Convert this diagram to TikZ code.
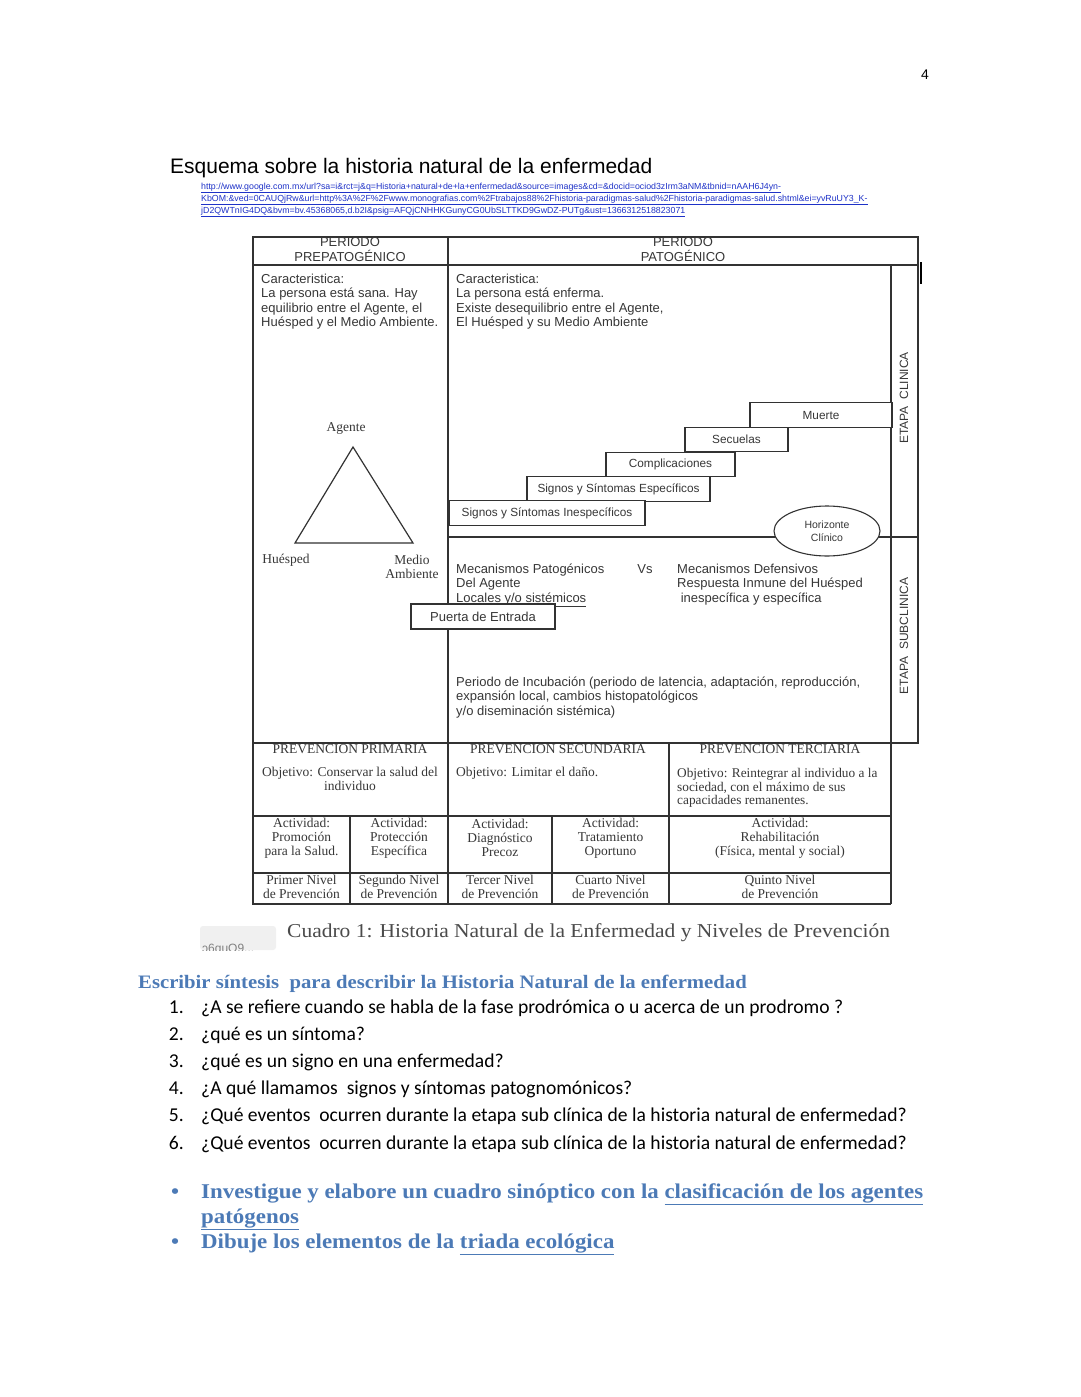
\documentclass[tikz,border=0pt]{standalone}
\usepackage{fontspec}
\setmainfont{Liberation Serif}
\newfontfamily\arialf{Liberation Sans}
\newfontfamily\calibrif{Carlito}
\newfontfamily\anchaf[FakeStretch=1.09]{Liberation Serif}
\usepackage{tikz}
\usetikzlibrary{shapes.geometric}
\definecolor{enlace}{RGB}{30,50,200}
\definecolor{acento}{RGB}{76,122,182}
\definecolor{linea}{RGB}{50,50,50}
\definecolor{tinta}{RGB}{55,55,55}
\definecolor{leyenda}{RGB}{75,75,75}
\newcommand{\letra}[2]{\fontsize{#1}{#2}\selectfont}

\begin{document}
\begin{tikzpicture}[x=1pt,y=-1pt,
  marco/.style={draw=linea,line width=1.3pt},
  caja/.style={draw=linea,line width=1.1pt,fill=white,inner sep=0pt},
  sans/.style={inner sep=0pt,text=tinta,align=left,font=\arialf\letra{13}{14.2}},
  serif/.style={inner sep=0pt,text=tinta,align=center,font=\letra{13.5}{14}},
  paso/.style={caja,minimum height=24.5pt,font=\arialf\letra{11.8}{13},text=tinta},
  url/.style={anchor=base west,inner sep=0pt,text=enlace,font=\arialf\letra{8.8}{10}},
  pregunta/.style={anchor=base west,inner sep=0pt,font=\calibrif\letra{19.6}{22}},
  tarea/.style={anchor=base west,inner sep=0pt,text=acento,font=\anchaf\bfseries\letra{21}{24}}]
\useasboundingbox[fill=white] (0,0) rectangle (1080,1397);

% encabezado de la pagina
\node[anchor=base,inner sep=0pt,font=\arialf\letra{14}{16}] (pagina) at (925,80){4};
\node[anchor=base west,inner sep=0pt,font=\arialf\letra{21}{24}] (titulo) at (170,173.5){Esquema sobre la historia natural de la enfermedad};
\node[url] (url1) at (201,189){\underline{http://www.google.com.mx/url?sa=i\&rct=j\&q=Historia+natural+de+la+enfermedad\&source=images\&cd=\&docid=ociod3zIrm3aNM\&tbnid=nAAH6J4yn-}};
\node[url] (url2) at (201,201){\underline{KbOM:\&ved=0CAUQjRw\&url=http\%3A\%2F\%2Fwww.monografias.com\%2Ftrabajos88\%2Fhistoria-paradigmas-salud\%2Fhistoria-paradigmas-salud.shtml\&ei=yvRuUY3\_K-}};
\node[url] (url3) at (201,213){\underline{jD2QWTnIG4DQ\&bvm=bv.45368065,d.b2I\&psig=AFQjCNHHKGunyCG0UbSLTTKD9GwDZ-PUTg\&ust=1366312518823071}};

% marco del cuadro
\draw[marco] (253,237) rectangle (918,743);
\draw[marco] (253,265) -- (918,265);
\draw[marco] (448,237) -- (448,904);
\draw[marco] (891,265) -- (891,904);
\draw[marco] (448,537) -- (918,537);
\draw[marco] (253,743) -- (253,904) -- (891,904);
\draw[marco] (253,816) -- (891,816);
\draw[marco] (253,873) -- (891,873);
\draw[marco] (350,816) -- (350,904);
\draw[marco] (552,816) -- (552,904);
\draw[marco] (669,743) -- (669,904);
\draw[line width=2.6pt] (921,262) -- (921,284);

% periodos
\begin{scope}
\clip (253,237) rectangle (918,265);
\node[sans] (perpre) at (350,242){PERIODO};
\node[sans] (perpat) at (683,242){PERIODO};
\end{scope}
\node[sans] (prepat) at (350,256){PREPATOGÉNICO};
\node[sans] (patog) at (683,256){PATOGÉNICO};
\node[sans,anchor=north west] (carsana) at (261,274){Caracteristica:\\La persona está sana. Hay\\equilibrio entre el Agente, el\\Huésped y el Medio Ambiente.};
\node[sans,anchor=north west] (carenf) at (456,274){Caracteristica:\\La persona está enferma.\\Existe desequilibrio entre el Agente,\\El Huésped y su Medio Ambiente};

% triada
\coordinate (vagente) at (353,447);
\coordinate (vhuesped) at (295,543);
\coordinate (vmedio) at (413,543);
\draw[draw=linea,line width=1.2pt] (vagente) -- (vhuesped) -- (vmedio) -- cycle;
\node[serif] (agente) at (346,428){Agente};
\node[serif] (huesped) at (286,560){Huésped};
\node[serif] (medio) at (412,567){Medio\\Ambiente};

% escalera de la etapa clinica
\node[paso,minimum width=142pt] (muerte) at (821,415){Muerte};
\node[paso,minimum width=103pt] (secuelas) at (736.5,439.5){Secuelas};
\node[paso,minimum width=129pt] (complic) at (670.5,464.5){Complicaciones};
\node[paso,minimum width=183pt] (especif) at (618.5,489){Signos y Síntomas Específicos};
\node[paso,minimum width=196pt] (inespec) at (547,513){Signos y Síntomas Inespecíficos};
\node[ellipse,draw=linea,line width=1.1pt,fill=white,minimum width=106pt,minimum height=50pt,inner sep=0pt,align=center,text=tinta,font=\arialf\letra{10.5}{12.5}] (horiz) at (827,531){Horizonte\\Clínico};
\node[sans,rotate=90,font=\arialf\letra{12}{13}] (clinica) at (904,398){ETAPA\ \ CLINICA};
\node[sans,rotate=90,font=\arialf\letra{12}{13}] (subclin) at (904,636){ETAPA\ \ SUBCLINICA};

% etapa subclinica
\node[sans,anchor=north west] (mecpat) at (456,564){Mecanismos Patogénicos\\Del Agente\\\underline{Locales y/o sistémicos}};
\node[sans] (vs) at (645,569){Vs};
\node[sans,anchor=north west] (mecdef) at (677,564){Mecanismos Defensivos\\Respuesta Inmune del Huésped\\\ inespecífica y específica};
\node[caja,minimum width=144pt,minimum height=25pt,font=\arialf\letra{13}{14},text=tinta] (puerta) at (483,616.5){Puerta de Entrada};
\node[sans,anchor=north west] (incub) at (456,677){Periodo de Incubación (periodo de latencia, adaptación, reproducción,\\expansión local, cambios histopatológicos\\y/o diseminación sistémica)};

% niveles de prevencion
\node[serif] (primaria) at (350,749.5){PREVENCION PRIMARIA};
\node[serif] (secund) at (558,749.5){PREVENCION SECUNDARIA};
\node[serif] (terciaria) at (780,749.5){PREVENCION TERCIARIA};
\node[serif] (objprim) at (350,779){Objetivo: Conservar la salud del\\individuo};
\node[serif,anchor=west] (objsec) at (456,773){Objetivo: Limitar el daño.};
\node[serif,anchor=north west,align=left,font=\letra{13.3}{13.6}] (objter) at (677,768){Objetivo: Reintegrar al individuo a la\\sociedad, con el máximo de sus\\capacidades remanentes.};
\node[serif] (actpro) at (301.5,838){Actividad:\\Promoción\\para la Salud.};
\node[serif] (actprot) at (399,838){Actividad:\\Protección\\Específica};
\node[serif] (actdiag) at (500,838){Actividad:\\Diagnóstico\\Precoz};
\node[serif] (acttrat) at (610.5,838){Actividad:\\Tratamiento\\Oportuno};
\node[serif] (actrehab) at (780,838){Actividad:\\Rehabilitación\\(Física, mental y social)};
\node[serif] (nivel1) at (301.5,887){Primer Nivel\\de Prevención};
\node[serif] (nivel2) at (399,887){Segundo Nivel\\de Prevención};
\node[serif] (nivel3) at (500,887){Tercer Nivel\\de Prevención};
\node[serif] (nivel4) at (610.5,887){Cuarto Nivel\\de Prevención};
\node[serif] (nivel5) at (780,887){Quinto Nivel\\de Prevención};

% leyenda del cuadro
\fill[gray!12,rounded corners=3pt] (200,926) rectangle (276,950);
\begin{scope}
\clip (200,926) rectangle (276,950);
\node[anchor=base west,inner sep=0pt,text=gray,font=\arialf\letra{12}{13}] (etiqueta) at (202,952){ɔ6quO9...};
\end{scope}
\node[anchor=base west,inner sep=0pt,text=leyenda,font=\anchaf\letra{19.7}{22}] (cuadro) at (287,937){Cuadro 1: Historia Natural de la Enfermedad y Niveles de Prevención};

% preguntas
\node[anchor=base west,inner sep=0pt,text=acento,font=\anchaf\bfseries\letra{19}{22}] (sintesis) at (138,988){Escribir síntesis\ \ para describir la Historia Natural de la enfermedad};
\node[pregunta,anchor=base east] (n1) at (184,1013){1.};
\node[pregunta] (p1) at (201,1013){¿A se refiere cuando se habla de la fase prodrómica o u acerca de un prodromo ?};
\node[pregunta,anchor=base east] (n2) at (184,1040){2.};
\node[pregunta] (p2) at (201,1040){¿qué es un síntoma?};
\node[pregunta,anchor=base east] (n3) at (184,1067){3.};
\node[pregunta] (p3) at (201,1067){¿qué es un signo en una enfermedad?};
\node[pregunta,anchor=base east] (n4) at (184,1094){4.};
\node[pregunta] (p4) at (201,1094){¿A qué llamamos\ \ signos y síntomas patognomónicos?};
\node[pregunta,anchor=base east] (n5) at (184,1121){5.};
\node[pregunta] (p5) at (201,1121){¿Qué eventos\ \ ocurren durante la etapa sub clínica de la historia natural de enfermedad?};
\node[pregunta,anchor=base east] (n6) at (184,1149){6.};
\node[pregunta] (p6) at (201,1149){¿Qué eventos\ \ ocurren durante la etapa sub clínica de la historia natural de enfermedad?};

% tareas
\node[tarea] (b1) at (171,1198){•};
\node[tarea] (t1) at (201,1198){Investigue y elabore un cuadro sinóptico con la \underline{clasificación de los agentes}};
\node[tarea] (t1b) at (201,1223){\underline{patógenos}};
\node[tarea] (b2) at (171,1248){•};
\node[tarea] (t2) at (201,1248){Dibuje los elementos de la \underline{triada ecológica}};
\end{tikzpicture}
\end{document}
